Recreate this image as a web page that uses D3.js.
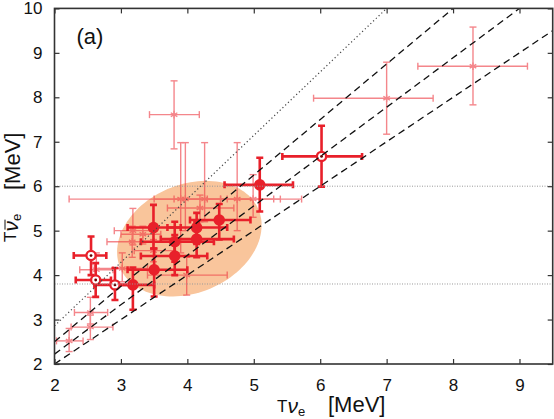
<!DOCTYPE html>
<html>
<head>
<meta charset="utf-8">
<script src="https://cdn.jsdelivr.net/npm/d3@7"></script>
<style>
  body { margin: 0; background: #fff; }
  text { font-family: "Liberation Sans", Arial, sans-serif; }
</style>
</head>
<body>
<div id="chart"></div>
<script>
var svgWidth = 554;
var svgHeight = 419;
var margin = { top: 8.4, right: 1.3, bottom: 55, left: 54.5 };
var width = svgWidth - margin.left - margin.right;
var height = svgHeight - margin.top - margin.bottom;

// axis ranges and ticks
var xDomain = [2, 9.5];
var yDomain = [2, 10];
var xTicks = [2, 3, 4, 5, 6, 7, 8, 9];
var yTicks = [2, 3, 4, 5, 6, 7, 8, 9, 10];

// reference lines T_nubar = k * T_nu
var lineSlopes = [1 / 0.7, 1.25, 10 / 9, 1];
var lineKinds = ["dot", "dash", "dash", "dash"];
var hLevels = [6, 3.8];

// shaded region: centre and two conjugate half-axes (data units)
var ellCenter = [4.03, 4.82];
var ellAxisA = [1.04, 0.66];
var ellAxisB = [0.32, -1.12];

// thick points: [x, y, xlo, xhi, ylo, yhi, open]
var boldPts = [
  [2.55, 4.44, 2.29, 2.78, 4.00, 4.87, 1],
  [2.62, 3.89, 2.32, 2.85, 3.51, 4.27, 1],
  [2.91, 3.78, 2.60, 3.20, 3.44, 4.16, 1],
  [3.18, 3.78, 2.95, 3.50, 3.22, 4.17, 0],
  [3.50, 4.12, 3.10, 4.00, 3.52, 4.60, 0],
  [3.49, 5.07, 3.10, 3.90, 4.60, 5.58, 0],
  [3.81, 4.75, 3.30, 4.40, 4.30, 5.20, 0],
  [3.81, 4.43, 3.30, 4.30, 4.00, 4.90, 0],
  [4.14, 5.07, 3.70, 4.60, 4.70, 5.40, 0],
  [4.14, 4.81, 3.60, 4.70, 4.40, 5.20, 0],
  [4.48, 5.24, 4.04, 4.95, 4.80, 5.60, 0],
  [5.09, 6.03, 4.56, 5.59, 5.43, 6.64, 0],
  [6.02, 6.67, 5.43, 6.63, 5.99, 7.36, 1]
];

// thin points: [x, y, xlo, xhi, ylo, yhi]
var thinPts = [
  [3.80, 7.61, 3.43, 4.18, 6.84, 8.37],
  [7.00, 7.98, 5.90, 7.70, 7.17, 8.79],
  [8.30, 8.70, 7.47, 9.12, 7.83, 9.58],
  [2.22, 2.52, 2.03, 2.43, 2.28, 2.80],
  [2.54, 3.16, 2.30, 2.80, 2.90, 3.50],
  [2.54, 2.83, 2.25, 2.88, 2.55, 3.10],
  [2.63, 4.12, 2.38, 2.88, 3.95, 4.50],
  [3.18, 5.00, 2.90, 3.50, 4.68, 5.50],
  [3.33, 4.92, 3.00, 3.60, 4.70, 5.10],
  [3.17, 4.75, 2.79, 3.50, 4.40, 5.10],
  [3.02, 4.15, 2.60, 3.40, 3.85, 4.50],
  [3.90, 5.71, 2.22, 4.50, 4.50, 6.98],
  [3.97, 5.71, 3.50, 4.60, 5.00, 6.98],
  [4.26, 5.71, 3.80, 5.30, 5.20, 6.98],
  [4.19, 5.51, 3.70, 4.70, 5.20, 5.80],
  [4.75, 5.71, 4.30, 5.40, 5.00, 6.98],
  [4.99, 5.71, 4.50, 5.72, 5.30, 6.26],
  [3.99, 4.00, 3.40, 4.60, 3.55, 4.40],
  [3.49, 4.55, 3.20, 3.80, 4.30, 4.80]
];

var boldColor = "#e8202a";
var thinColor = "#ee3c44";

var svg = d3.select("#chart")
  .append("svg")
  .attr("width", svgWidth)
  .attr("height", svgHeight);

var g = svg.append("g")
  .attr("transform", `translate(${margin.left}, ${margin.top})`);

var x = d3.scaleLinear().domain(xDomain).range([0, width]);
var y = d3.scaleLinear().domain(yDomain).range([height, 0]);

g.append("clipPath").attr("id", "clip")
  .append("rect").attr("width", width).attr("height", height);

var plot = g.append("g").attr("clip-path", "url(#clip)");

// ellipse
var ellPts = d3.range(0, 361, 3).map(function(a) {
  var t = a * Math.PI / 180;
  return [ellCenter[0] + Math.cos(t) * ellAxisA[0] + Math.sin(t) * ellAxisB[0],
          ellCenter[1] + Math.cos(t) * ellAxisA[1] + Math.sin(t) * ellAxisB[1]];
});
plot.append("path")
  .attr("d", d3.line().x(d => x(d[0])).y(d => y(d[1])).curve(d3.curveLinearClosed)(ellPts))
  .attr("fill", "#f9c59c");

// error bars
function drawPoints(data, color, sw, cap, op) {
  var grp = plot.append("g").attr("stroke", color).attr("stroke-width", sw).attr("opacity", op).attr("fill", "none");
  data.forEach(function(d) {
    grp.append("line").attr("x1", x(d[2])).attr("x2", x(d[3])).attr("y1", y(d[1])).attr("y2", y(d[1]));
    grp.append("line").attr("x1", x(d[0])).attr("x2", x(d[0])).attr("y1", y(d[4])).attr("y2", y(d[5]));
    [d[2], d[3]].forEach(function(v) {
      grp.append("line").attr("x1", x(v)).attr("x2", x(v)).attr("y1", y(d[1]) - cap).attr("y2", y(d[1]) + cap);
    });
    [d[4], d[5]].forEach(function(v) {
      grp.append("line").attr("x1", x(d[0]) - cap).attr("x2", x(d[0]) + cap).attr("y1", y(v)).attr("y2", y(v));
    });
  });
  return grp;
}

var thinG = drawPoints(thinPts, thinColor, 1.4, 3.5, 0.62);
thinG.selectAll("path.sym")
  .data(thinPts)
  .enter()
  .append("path")
  .attr("class", "sym")
  .attr("transform", d => `translate(${x(d[0])},${y(d[1])})`)
  .attr("d", d3.symbol(d3.symbolAsterisk, 40)());

var boldG = drawPoints(boldPts, boldColor, 2.6, 3.5, 1);
boldG.selectAll("circle.mk")
  .data(boldPts)
  .enter()
  .append("circle")
  .attr("class", "mk")
  .attr("cx", d => x(d[0]))
  .attr("cy", d => y(d[1]))
  .attr("r", d => d[6] ? 4.6 : 5.8)
  .attr("fill", d => d[6] ? "#fff" : boldColor)
  .attr("stroke-width", d => d[6] ? 2.3 : 0);
boldG.selectAll("circle.dot")
  .data(boldPts.filter(d => d[6]))
  .enter()
  .append("circle")
  .attr("cx", d => x(d[0]))
  .attr("cy", d => y(d[1]))
  .attr("r", 1.4)
  .attr("stroke", "none")
  .attr("fill", "#600");

// horizontal dotted levels
plot.selectAll("line.h")
  .data(hLevels)
  .enter()
  .append("line")
  .attr("x1", 0).attr("x2", width)
  .attr("y1", d => y(d)).attr("y2", d => y(d))
  .attr("stroke", "#999")
  .attr("stroke-width", 1)
  .attr("stroke-dasharray", "1,1.5");

// diagonal reference lines
plot.selectAll("line.diag")
  .data(lineSlopes)
  .enter()
  .append("line")
  .attr("x1", x(xDomain[0])).attr("y1", d => y(d * xDomain[0]))
  .attr("x2", x(xDomain[1])).attr("y2", d => y(d * xDomain[1]))
  .attr("stroke", (d, i) => lineKinds[i] === "dot" ? "#444" : "#111")
  .attr("stroke-width", (d, i) => lineKinds[i] === "dot" ? 1.2 : 1.3)
  .attr("stroke-dasharray", (d, i) => lineKinds[i] === "dot" ? "1.2,2.6" : "7,4.5");

// axes
var axB = d3.axisBottom(x).tickValues(xTicks).tickSize(-5).tickPadding(15).tickFormat(d3.format("d"));
var axL = d3.axisLeft(y).tickValues(yTicks).tickSize(-5).tickPadding(12).tickFormat(d3.format("d"));
var axT = d3.axisTop(x).tickValues(xTicks).tickSize(-5).tickFormat("");
var axR = d3.axisRight(y).tickValues(yTicks).tickSize(-5).tickFormat("");

g.append("g").attr("transform", `translate(0, ${height})`).call(axB);
g.append("g").call(axL);
g.append("g").call(axT);
g.append("g").attr("transform", `translate(${width}, 0)`).call(axR);

g.selectAll(".domain").remove();
g.selectAll(".tick line").attr("stroke", "#333").attr("stroke-width", 1.2);
g.selectAll(".tick text").attr("font-size", "17px").attr("fill", "#111")
  .attr("font-family", "DejaVu Sans, sans-serif");

g.append("rect")
  .attr("width", width).attr("height", height)
  .attr("fill", "none").attr("stroke", "#333").attr("stroke-width", 1.6);

// panel label
g.append("text")
  .attr("x", 22).attr("y", 36)
  .attr("font-size", "22px")
  .attr("fill", "#111")
  .text("(a)");

// x title
var xt = svg.append("text").attr("x", 277).attr("y", 412).attr("fill", "#111");
xt.append("tspan").attr("font-size", "17px").text("T");
xt.append("tspan").attr("font-size", "21px").attr("font-style", "italic").attr("dy", 1).text("ν");
xt.append("tspan").attr("font-size", "13px").attr("dy", 3).text("e");
svg.append("text").attr("x", 328).attr("y", 412).attr("font-size", "22px").attr("fill", "#111").text("[MeV]");

// y title
var ytg = svg.append("g").attr("transform", "translate(16, 242) rotate(-90)");
var yt = ytg.append("text").attr("fill", "#111");
yt.append("tspan").attr("font-size", "17px").text("T");
var nu = yt.append("tspan").attr("font-size", "21px").attr("font-style", "italic").attr("dy", 2).text("ν");
yt.append("tspan").attr("font-size", "13px").attr("dy", 3).text("e");
var nb = nu.node().getBBox();
ytg.append("line")
  .attr("x1", nb.x + 2).attr("x2", nb.x + nb.width + 1)
  .attr("y1", nb.y + 6).attr("y2", nb.y + 6)
  .attr("stroke", "#111").attr("stroke-width", 1);
svg.append("text").attr("transform", "translate(20, 190) rotate(-90)")
  .attr("font-size", "22px").attr("fill", "#111").text("[MeV]");
</script>
</body>
</html>
